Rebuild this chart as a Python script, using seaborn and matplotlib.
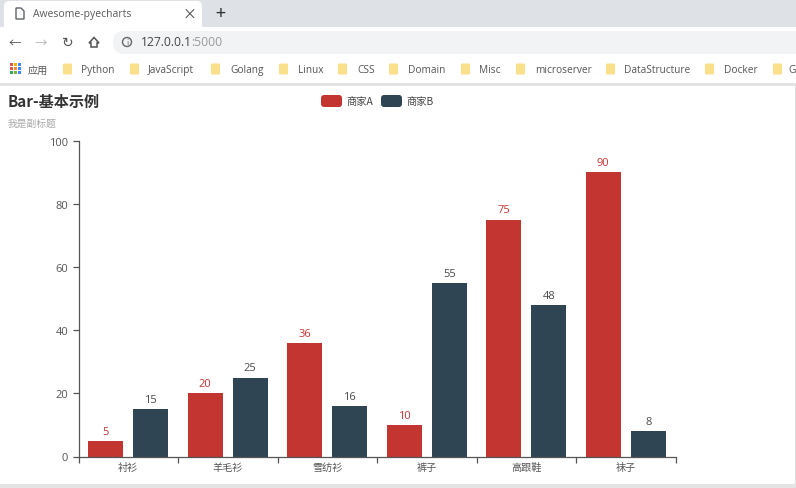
import matplotlib
matplotlib.use("Agg")
import matplotlib.pyplot as plt
from matplotlib.patches import FancyBboxPatch, Rectangle, Circle, Polygon
import seaborn as sns
import pandas as pd

categories = ["衬衫", "羊毛衫", "雪纺衫", "裤子", "高跟鞋", "袜子"]
series_a = [5, 20, 36, 10, 75, 90]
series_b = [15, 25, 16, 55, 48, 8]
series_names = ["商家A", "商家B"]
y_ticks = [0, 20, 40, 60, 80, 100]
bookmarks = ["Python", "JavaScript", "Golang", "Linux", "CSS", "Domain", "Misc",
             "microserver", "DataStructure", "Docker", "G"]
bookmark_folder_x = [63, 130, 211, 279, 338, 389, 461, 516, 606, 705, 773]
bookmark_text_x = [81, 148, 230, 298, 357, 408, 479, 535, 624, 724, 788.5]

RED, NAVY = "#c23531", "#2f4554"
W, H = 796, 489
sns.set_theme(style="white")
plt.rcParams["font.family"] = ["Noto Sans CJK SC", "DejaVu Sans"]

df = pd.DataFrame({
    "cat": categories * 2,
    "val": series_a + series_b,
    "series": [series_names[0]] * 6 + [series_names[1]] * 6,
})

fig = plt.figure(figsize=(W / 100, H / 100), dpi=100, facecolor="white")

# browser chrome, drawn in pixel coordinates
bg = fig.add_axes([0, 0, 1, 1], zorder=0)
bg.set_xlim(0, W); bg.set_ylim(H, 0); bg.axis("off")
def rect(x, y, w, h, c, **k):
    bg.add_patch(Rectangle((x, y), w, h, fc=c, ec="none", **k))
def txt(x, y, s, size=8, c="#555555", **k):
    bg.text(x, y, s, fontsize=size, color=c, va="center", **k)

rect(0, 0, W, 28, "#dee1e6")
bg.add_patch(FancyBboxPatch((4, 2), 198, 30, boxstyle="round,pad=0,rounding_size=5", fc="white", ec="none"))
rect(0, 28, W, 57, "white")
bg.add_patch(FancyBboxPatch((113, 32), 720, 23, boxstyle="round,pad=0,rounding_size=11", fc="#f1f3f4", ec="none"))
rect(0, 84, W, 2.5, "#e3e3e3")
rect(0, 484.5, W, 4.5, "#e4e4e4")
rect(795, 86, 1, 400, "#dddddd")

bg.add_patch(Polygon([(16, 9), (21, 9), (24, 12), (24, 20), (16, 20)], closed=True, fc="white", ec="#5f6368", lw=1))
txt(33, 15, "Awesome-pyecharts", 7.5, "#5a5a5a", family=["Open Sans"])
txt(189, 14.5, "×", 10, "#444444", ha="center")
txt(220, 14, "+", 13, "#333333", ha="center")
txt(15, 43, "←", 9, "#555555", ha="center")
txt(41, 43, "→", 9, "#b5b5b5", ha="center")
txt(68, 43, "↻", 10, "#555555", ha="center")
bg.add_patch(Polygon([(89, 44), (94, 38.5), (99, 44), (97, 44), (97, 48), (91, 48), (91, 44)], closed=True, fc="none", ec="#555555", lw=1.1))
bg.add_patch(Circle((127, 43), 4.5, fc="none", ec="#666666", lw=1))
txt(127, 43, "i", 5.5, "#666666", ha="center")
bg.text(141, 43, "127.0.0.1", fontsize=8.7, color="#444444", va="center", family=["Open Sans"])
bg.text(191.5, 43, ":5000", fontsize=8.7, color="#9a9a9a", va="center", family=["Open Sans"])
for i, c in enumerate(["#e2574c", "#f4b400", "#4285f4", "#e2574c", "#ea8a3c", "#4285f4", "#34a853", "#7cb342", "#4285f4"]):
    rect(10 + (i % 3) * 4, 64 + (i // 3) * 4, 2.6, 2.6, c)
txt(28, 70.5, "应用", 7.3, "#555555")
for fx, tx, name in zip(bookmark_folder_x, bookmark_text_x, bookmarks):
    bg.add_patch(FancyBboxPatch((fx, 64.5), 9, 11, boxstyle="round,pad=0,rounding_size=1", fc="#fbe08c", ec="none"))
    txt(tx, 70.5, name, 7.3, "#555555", family=["Open Sans"])

# chart titles
txt(8, 102, "Bar-基本示例", 10.9, "#333333", fontweight="bold")
txt(8, 124, "我是副标题", 7, "#aaaaaa")

# the chart itself
ax = fig.add_axes([78.5 / W, 1 - 457.5 / H, 597 / W, 316 / H], zorder=2)
ax.patch.set_alpha(0)
sns.barplot(data=df, x="cat", y="val", hue="series", order=categories,
            hue_order=series_names, palette=[RED, NAVY], width=0.905, gap=0.233,
            saturation=1, legend=False, ax=ax, edgecolor="none", linewidth=0)
ax.set_xlim(-0.5, 5.5)
ax.set_ylim(0, 100)
ax.set_xlabel(""); ax.set_ylabel("")
ax.set_yticks(y_ticks)
ax.set_xticks([i - 0.5 for i in range(7)], minor=False)
ax.set_xticklabels([""] * 7)
ax.set_xticks(range(6), labels=categories, minor=True)
ax.tick_params(axis="x", which="major", length=4.5, width=0.9, color="#555555", direction="out", bottom=True)
ax.tick_params(axis="x", which="minor", length=0, labelsize=7.3, labelcolor="#555555", pad=4)
ax.tick_params(axis="y", length=4.5, width=0.9, color="#555555", labelsize=8, labelcolor="#555555", pad=3, left=True)
for lab in ax.get_yticklabels():
    lab.set_fontfamily(["Open Sans"])
sns.despine(ax=ax)
for s in ("left", "bottom"):
    ax.spines[s].set_color("#555555")
    ax.spines[s].set_linewidth(0.9)
for cont, col in zip(ax.containers, [RED, "#4a4a4a"]):
    ax.bar_label(cont, padding=3, fontsize=8, color=col, family=["Open Sans"])

# legend
for lx, c, name in zip([321, 381], [RED, NAVY], series_names):
    bg.add_patch(FancyBboxPatch((lx, 96), 21, 12, boxstyle="round,pad=0,rounding_size=3", fc=c, ec="none"))
    txt(lx + 25, 102, name, 7.4, "#444444")

fig.savefig("out.png", dpi=100)
